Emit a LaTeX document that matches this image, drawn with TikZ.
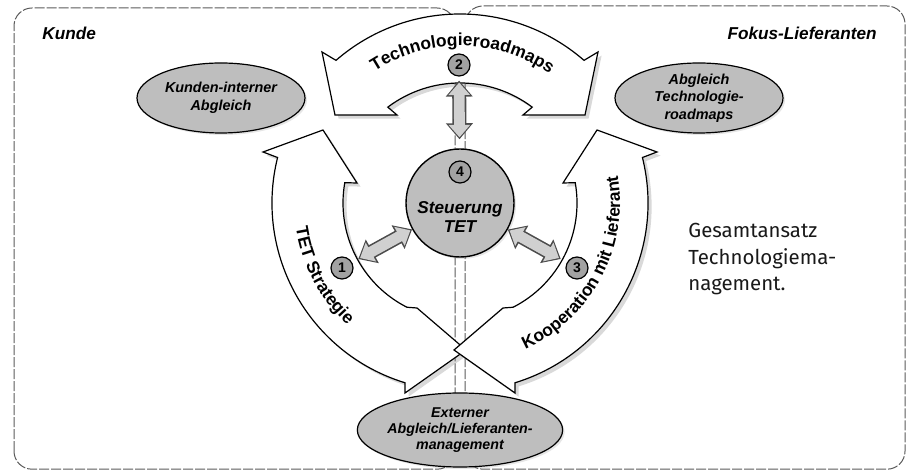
\documentclass[tikz,border=0pt]{standalone}
\usepackage{fontspec}
\setsansfont{Liberation Sans}
\newfontfamily\dinfont{Fira Sans}
\usetikzlibrary{shapes,positioning,arrows.meta,decorations.text,shadows}
\definecolor{grey1}{HTML}{BEBEBE}
\definecolor{grey2}{HTML}{A2A2A2}
\definecolor{grey3}{HTML}{D0D0D0}
\definecolor{grey4}{HTML}{5A5A5A}
\tikzset{oval/.style={ellipse,draw,fill=grey1,line width=0.6pt,minimum width=84pt,minimum height=35pt,inner sep=0pt,align=center,font=\sffamily\bfseries\itshape\fontsize{7.2}{8.8}\selectfont,drop shadow={opacity=0.2,shadow xshift=1pt,shadow yshift=-1pt}}}
\tikzset{hub/.style={circle,draw,fill=grey1,minimum size=54pt,inner sep=0pt,line width=0.7pt,drop shadow={opacity=0.2,shadow xshift=1pt,shadow yshift=-1pt}}}
\tikzset{numcirc/.style={circle,draw,fill=grey2,minimum size=11pt,inner sep=0pt,line width=0.6pt,font=\sffamily\bfseries\fontsize{7}{7}\selectfont}}
\tikzset{textbox/.style={draw=none,color=black,inner sep=0pt}}
\tikzset{bigarrow/.style={draw,fill=white,line width=0.6pt,line join=miter,drop shadow={opacity=0.3,shadow xshift=1.8pt,shadow yshift=-1.8pt}}}
\tikzset{frame/.style={draw=grey4,line width=0.5pt,dash pattern=on 5pt off 1pt,rounded corners=9pt}}
\tikzset{dblarrow/.style={preaction={draw,line width=7pt,draw=black!70,arrows={Triangle[width=13pt,length=8pt]-Triangle[width=13pt,length=8pt]}},line width=5.4pt,draw=grey3,arrows={Triangle[width=10.4pt,length=6.2pt,sep=1pt]-Triangle[width=10.4pt,length=6.2pt,sep=1pt]}}}
\tikzset{arctext/.style={decorate,decoration={text along path,text align=center,text={|\sffamily\bfseries\fontsize{8.7}{8.7}\selectfont|#1}}}}

\begin{document}
\begin{tikzpicture}[x=0.5pt,y=0.5pt]
    \useasboundingbox (0,0) rectangle (909,470);

    \draw[frame] (14,0.8) rectangle (455,462);
    \draw[frame] (465,0.8) rectangle (905,464);

    \begin{scope}[shift={(460,267)}]
        \draw[bigarrow] (49:189) arc[start angle=49,end angle=131,radius=189]
            -- (-138,151) -- (-125,88) -- (-63,88) -- (127:120)
            arc[start angle=127,end angle=53,radius=120]
            -- (63,88) -- (125,88) -- (138,151) -- cycle;
        \draw[bigarrow] (166:188) arc[start angle=166,end angle=253,radius=188]
            -- (-55,-190) -- (6,-147) -- (-43,-105) -- (243:117)
            arc[start angle=243,end angle=170,radius=117]
            -- (-103,20) -- (-137,73) -- (-197,51) -- cycle;
        \begin{scope}[xscale=-1]
            \draw[bigarrow] (166:188) arc[start angle=166,end angle=253,radius=188]
                -- (-55,-190) -- (6,-147) -- (-43,-105) -- (243:117)
                arc[start angle=243,end angle=170,radius=117]
                -- (-103,20) -- (-137,73) -- (-197,51) -- cycle;
        \end{scope}
        \path[arctext=Technologieroadmaps] (131:157) arc[start angle=131,end angle=47,radius=157];
        \path[arctext=TET Strategie] (168:166) arc[start angle=168,end angle=248,radius=166];
        \path[arctext=Kooperation mit Lieferant] (-73:160) arc[start angle=-73,end angle=17,radius=160];
    \end{scope}

    \node[textbox,anchor=west,font=\sffamily\bfseries\itshape\fontsize{8.6}{10}\selectfont] (kunde) at (42,437) {Kunde};
    \node[textbox,anchor=east,font=\sffamily\bfseries\itshape\fontsize{8.6}{10}\selectfont] (fokus) at (877,437) {Fokus-Lieferanten};

    \node[oval] (kintern) at (221,372) {Kunden-interner\\Abgleich};
    \node[oval] (abgleich) at (699,372) {Abgleich\\Technologie-\\roadmaps};
    \node[oval,minimum width=85pt,minimum height=37pt,font=\sffamily\bfseries\itshape\fontsize{7.1}{8.2}\selectfont] (extern) at (460,40) {Externer\\Abgleich/Lieferanten-\\management};

    \node[hub] (steuer) at (460,267) {};
    \node[numcirc] (n4) at (460,298) {4};
    \node[textbox,align=center,font=\sffamily\bfseries\itshape\fontsize{8.6}{9.7}\selectfont] (steuerlbl) at (460,253) {Steuerung\\TET};
    \node[numcirc] (n2) at (459,405) {2};
    \node[numcirc] (n1) at (342,202) {1};
    \node[numcirc] (n3) at (577,202) {3};

    \draw[dblarrow,shorten <=2pt,shorten >=4.5pt] (n2) -- (steuer);
    \draw[dblarrow,shorten <=3.5pt] (n1) -- (steuer);
    \draw[dblarrow,shorten <=3.5pt] (n3) -- (steuer);

    \node[textbox,anchor=north west,align=left,text=black!90,font=\dinfont\fontsize{10.2}{13.2}\selectfont] (gesamt) at (688,247) {Gesamtansatz\\Technologiema-\\nagement.};
\end{tikzpicture}
\end{document}
